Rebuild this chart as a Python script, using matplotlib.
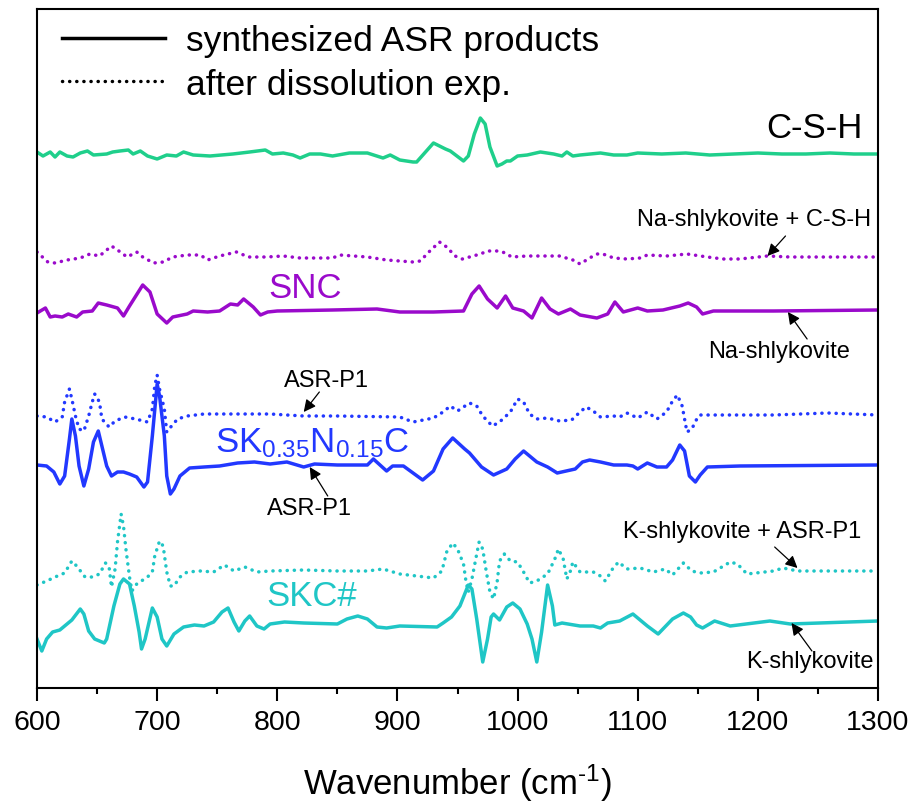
import matplotlib
matplotlib.use("Agg")
import matplotlib.pyplot as plt
from matplotlib.lines import Line2D
from matplotlib.ticker import MultipleLocator

plt.rcParams["font.family"] = ["Liberation Sans", "DejaVu Sans"]
plt.rcParams["mathtext.fontset"] = "custom"
plt.rcParams["mathtext.rm"] = "Liberation Sans"
plt.rcParams["axes.unicode_minus"] = False

# FTIR difference spectra (arbitrary units), wavenumber in cm^-1
csh_wn = [600, 605, 611, 615, 619, 625, 630, 636, 642, 647, 658, 663, 669, 676, 680, 686, 692, 700, 708, 716,
          722, 730, 744, 763, 777, 790, 796, 805, 813, 819, 827, 836, 846, 860, 875, 888, 894, 902, 913, 916,
          930, 940, 944, 955, 959, 964, 969, 973, 977, 983, 987, 991, 994, 1000, 1008, 1019, 1030, 1037, 1041,
          1046, 1052, 1069, 1080, 1091, 1100, 1120, 1140, 1160, 1180, 1200, 1220, 1240, 1260, 1280, 1300]
csh_int = [2, -2, 2, -3, 2, -2, -3, 1, 3, -1, 0, 2, 3, 4, 0, 3, -2, -5, -1, -2,
           2, -1, -2, 0, 2, 4, 0, 1, -1, -4, 0, 0, -2, 1, 1, -4, -1, -6, -8, -8,
           11, 5, 3, -7, -2, 20, 36, 30, 7, -12, -10, -7, -7, -2, -1, 2, 0, -2, 2,
           -2, -1, 1, -1, -1, 1, 0, 1, -1, 0, 1, 0, 0, 1, 0, 0]

snc_diss_wn = [600, 609, 615, 625, 636, 644, 652, 662, 667, 675, 683, 688, 697, 705, 713, 725, 736, 742, 752, 766,
               776, 791, 805, 819, 846, 852, 875, 891, 913, 919, 927, 935, 941, 948, 954, 969, 975, 984, 990, 995,
               1008, 1021, 1035, 1046, 1052, 1060, 1066, 1071, 1080, 1091, 1102, 1108, 1124, 1141, 1158, 1171,
               1185, 1208, 1227, 1254, 1300]
snc_diss_int = [5, -5, -6, -3, -1, 3, 1, 11, 7, 0, 5, 0, -6, -5, 0, 2, 2, -3, 1, 5,
                0, 0, 1, -1, -1, 2, 0, -3, -5, -4, 6, 15, 10, 1, -2, 3, 6, 6, 4, 0,
                1, 1, 1, -3, -7, -1, 3, 3, -1, -2, -1, 2, 1, 3, 0, -2,
                -2, 1, 0, 0, 0]

snc_wn = [600, 607, 611, 615, 621, 626, 633, 638, 646, 651, 658, 667, 672, 677, 688, 694, 700, 708, 713, 725,
          730, 742, 752, 761, 767, 772, 780, 786, 792, 800, 846, 883, 902, 930, 955, 962, 968, 975, 983, 990,
          996, 1005, 1012, 1020, 1027, 1034, 1044, 1052, 1066, 1075, 1081, 1088, 1100, 1108, 1121, 1135, 1142,
          1149, 1154, 1163, 1213, 1300]
snc_int = [-2, 3, -6, -5, -6, -3, -6, -1, 0, 8, 6, 3, -5, 5, 26, 19, -3, -12, -6, -3,
           0, -1, 0, 7, 6, 12, 4, -4, -1, 0, 1, 2, -1, -1, 0, 17, 25, 12, 3, 15,
           3, 0, -7, 13, 2, -3, 2, -4, -7, -3, 9, -1, 3, 0, 1, 5, 8,
           4, -3, 0, 0, 1]

sk_diss_wn = [600, 608, 615, 621, 623, 627, 629, 632, 635, 639, 643, 646, 648, 652, 654, 660, 665, 673, 682, 692,
              696, 698, 700, 702, 706, 708, 712, 717, 725, 739, 767, 794, 822, 850, 902, 913, 930, 938, 944, 950,
              960, 966, 971, 979, 985, 994, 1000, 1005, 1010, 1016, 1025, 1035, 1045, 1052, 1057, 1063, 1069,
              1080, 1085, 1091, 1100, 1108, 1116, 1124, 1129, 1133, 1137, 1139, 1141, 1145, 1150, 1152, 1213,
              1258, 1300]
sk_diss_int = [-2, -3, -8, -3, 12, 25, 15, -2, -15, -17, -2, 12, 20, 12, -5, -13, -7, -3, -5, -8,
               5, 28, 39, 25, 5, -18, -12, -5, -2, 0, 0, 0, -2, -2, -3, -8, -4, 2, 8, 3,
               11, 8, -2, -12, -8, 2, 15, 12, 0, -5, -4, -7, -6, 2, 7, 3, -3,
               -2, -3, 1, -4, 2, -5, 2, 13, 19, 8, -5, -18, -15, -3, -1, -1,
               1, -1]

sk_wn = [600, 608, 614, 619, 623, 627, 629, 632, 635, 639, 643, 647, 651, 654, 658, 662, 667, 672, 677, 683,
         689, 692, 696, 700, 702, 706, 708, 711, 714, 719, 727, 739, 752, 767, 781, 794, 808, 822, 831, 850,
         875, 880, 891, 896, 905, 921, 930, 938, 946, 956, 960, 970, 980, 991, 998, 1005, 1016, 1025, 1033,
         1048, 1054, 1060, 1069, 1080, 1091, 1096, 1100, 1108, 1116, 1124, 1129, 1135, 1139, 1143, 1148,
         1152, 1158, 1185, 1300]
sk_int = [0, -1, -7, -19, -11, 26, 46, 29, -1, -21, -4, 23, 34, 19, -1, -11, -7, -7, -9, -12,
          -22, -17, 29, 81, 69, 29, -11, -29, -24, -11, -3, -2, -1, 2, 3, 1, 3, -2, 1, 0,
          0, 6, -6, -1, -1, -15, -6, 16, 27, 16, 12, -2, -10, -4, 6, 14, 3, -2, -8,
          -4, 3, 5, 3, 0, 0, -1, -4, 2, -2, -2, 5, 20, 14, -11, -17,
          -10, -2, -1, 0]

skc_diss_wn = [600, 608, 617, 623, 629, 633, 640, 646, 652, 657, 660, 662, 665, 667, 670, 672, 674, 677, 679, 683,
               692, 696, 698, 702, 705, 708, 711, 714, 719, 725, 736, 747, 756, 764, 773, 783, 794, 822, 850, 875,
               888, 902, 916, 930, 937, 941, 946, 950, 955, 957, 959, 962, 966, 968, 971, 974, 977, 980, 983, 985,
               989, 994, 1000, 1005, 1010, 1016, 1025, 1031, 1034, 1038, 1041, 1044, 1046, 1052, 1063, 1069,
               1073, 1079, 1084, 1091, 1102, 1113, 1123, 1129, 1138, 1145, 1152, 1163, 1177, 1183, 1191, 1213,
               1221, 1233, 1300]
skc_diss_int = [-14, -10, -5, -2, 10, 5, -6, -6, -3, 8, 4, -16, 2, 29, 57, 45, 22, -6, -20, -13,
                -6, -1, 15, 30, 25, -1, -15, -15, -6, -1, 0, -1, 6, 0, 4, -1, 0, 1, 0, 0,
                2, -3, -5, -7, 0, 19, 28, 22, 7, -10, -21, -8, 17, 29, 22, -1, -21, -28, -11, 10,
                17, 10, 9, -1, -12, -10, -3, 12, 22, 12, -8, 0, 9, -1, -1, -5,
                -10, 2, 9, 2, 3, -1, 2, -4, 8, 0, -2, -1, 9, 7, -3, 0,
                3, 0, 0]

skc_wn = [600, 604, 608, 613, 619, 623, 629, 636, 639, 643, 648, 656, 658, 664, 669, 672, 677, 681, 685, 687,
          690, 696, 700, 704, 708, 714, 722, 731, 739, 747, 754, 759, 764, 768, 773, 777, 783, 789, 794, 806,
          822, 850, 858, 867, 875, 883, 891, 902, 933, 938, 945, 952, 959, 962, 966, 971, 975, 978, 980, 985,
          991, 996, 1002, 1008, 1012, 1016, 1020, 1025, 1029, 1031, 1037, 1052, 1063, 1069, 1075, 1085, 1096,
          1108, 1117, 1129, 1138, 1144, 1149, 1154, 1164, 1177, 1210, 1227, 1300]
skc_int = [-17, -29, -17, -10, -8, -4, 2, 13, 8, -9, -17, -21, -17, 16, 38, 43, 38, 16, -10, -27,
           -17, 14, 5, -17, -24, -12, -5, -3, -4, 0, 10, 14, 0, -9, 1, 6, -4, -7, -2, 0,
           -1, -2, 3, 6, 3, -5, -6, -4, -5, -1, 5, 16, 37, 33, 3, -40, -17, 5, 8, 2,
           15, 19, 13, -2, -17, -40, -10, 37, 16, -3, -1, -4, -4, -6, -1, 1, 8,
           -4, -12, 3, 9, 5, -3, -6, 1, -4, 1, -2, 1]

# vertical stacking offsets
off_csh = 534
off_snc_diss = 431
off_snc = 377
off_sk_diss = 274
off_sk = 223
off_skc_diss = 117
off_skc = 66

c_csh = "#1fcf8b"
c_snc = "#9a0acb"
c_sk = "#2238ff"
c_skc = "#1fc6c6"

lw = 2.5
dots = (0, (0.05, 2.0))


def shift(vals, off):
    return [v + off for v in vals]


fig = plt.figure(figsize=(9.15, 8.03), dpi=100)
ax = fig.add_axes([37 / 915, 114 / 803, 841 / 915, 679 / 803])

ax.plot(csh_wn, shift(csh_int, off_csh), color=c_csh, lw=lw)
ax.plot(snc_diss_wn, shift(snc_diss_int, off_snc_diss), color=c_snc, lw=lw,
        ls=dots, dash_capstyle="round")
ax.plot(snc_wn, shift(snc_int, off_snc), color=c_snc, lw=lw)
ax.plot(sk_diss_wn, shift(sk_diss_int, off_sk_diss), color=c_sk, lw=lw,
        ls=dots, dash_capstyle="round")
ax.plot(sk_wn, shift(sk_int, off_sk), color=c_sk, lw=lw)
ax.plot(skc_diss_wn, shift(skc_diss_int, off_skc_diss), color=c_skc, lw=lw,
        ls=dots, dash_capstyle="round")
ax.plot(skc_wn, shift(skc_int, off_skc), color=c_skc, lw=lw)

ax.set_xlim(600, 1300)
ax.set_ylim(0, 679)
ax.xaxis.set_major_locator(MultipleLocator(100))
ax.xaxis.set_minor_locator(MultipleLocator(50))
ax.tick_params(axis="x", which="major", direction="out", length=9, width=1.5,
               labelsize=20.5, pad=6)
ax.tick_params(axis="x", which="minor", direction="out", length=4.5, width=1.5)
ax.set_yticks([])
for sp in ax.spines.values():
    sp.set_linewidth(1.5)
# U+2010 hyphen keeps the exponent sign short like a plain dash
ax.set_xlabel("Wavenumber (cm$\\mathregular{^{\u20101}}$)", fontsize=25, labelpad=19)

# sample labels
ax.text(1287, 561, "C-S-H", fontsize=25, ha="right", va="center")
ax.text(823, 401, "SNC", fontsize=25, color=c_snc, ha="center", va="center")
ax.text(748, 237, r"SK$\mathregular{_{0.35}}$N$\mathregular{_{0.15}}$C", fontsize=25,
        color=c_sk, ha="left", va="baseline")
ax.text(829, 92, "SKC#", fontsize=25, color=c_skc, ha="center", va="center")

# phase assignments with arrows
arrow = dict(arrowstyle="-|>", color="black", lw=0.9, mutation_scale=18,
             shrinkA=0, shrinkB=0)
notes = [
    ("Na-shlykovite + C-S-H", (1197, 469), (1223, 452), (1208, 432)),
    ("Na-shlykovite", (1218, 337), (1241, 349), (1225, 376)),
    ("ASR-P1", (841, 308), (835, 296), (822, 276)),
    ("ASR-P1", (827, 180), (842, 192), (827, 221)),
    ("K-shlykovite + ASR-P1", (1187, 157), (1214, 141), (1233, 120)),
    ("K-shlykovite", (1243, 27), (1245, 37), (1228, 65)),
]
for label, txy, tail, head in notes:
    ax.text(txy[0], txy[1], label, fontsize=17, ha="center", va="center")
    ax.annotate("", xy=head, xytext=tail, arrowprops=arrow)

handles = [Line2D([], [], color="black", lw=lw),
           Line2D([], [], color="black", lw=lw, ls=dots, dash_capstyle="round")]
ax.legend(handles, ["synthesized ASR products", "after dissolution exp."],
          loc="upper left", bbox_to_anchor=(0.03, 0.978), frameon=False,
          fontsize=25.5, handlelength=2.9, handletextpad=0.6, labelspacing=0.3,
          borderaxespad=0, borderpad=0)

fig.savefig("out.png", dpi=100)
